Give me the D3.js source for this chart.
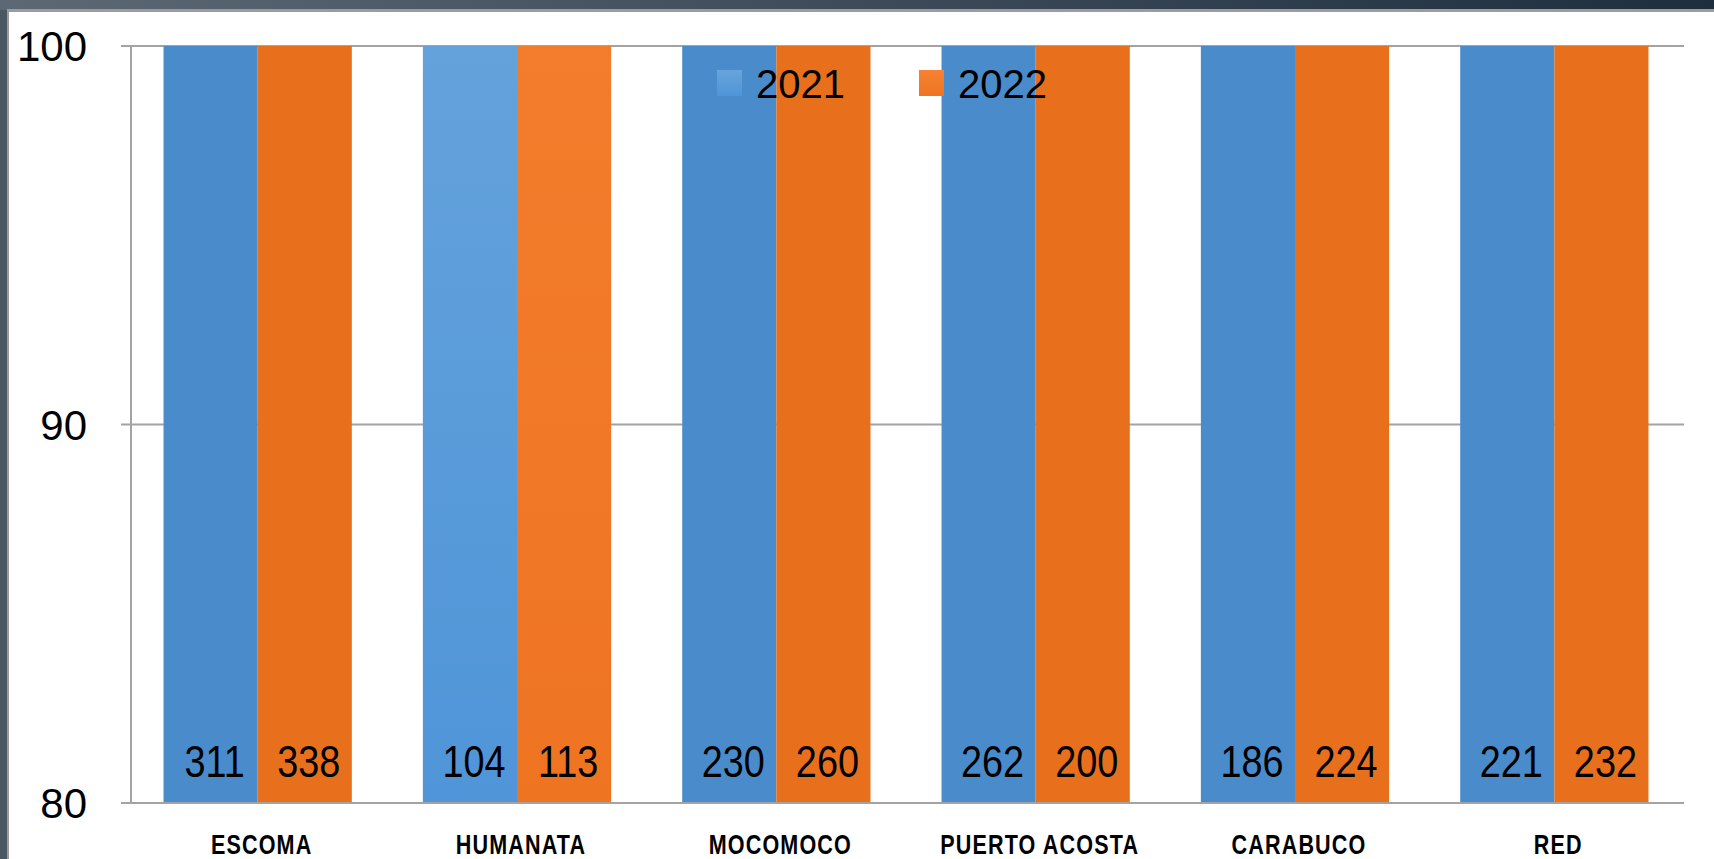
<!DOCTYPE html>
<html lang="es">
<head>
    <meta charset="UTF-8">
    <title>2021 vs 2022</title>
    <script src="https://d3js.org/d3.v7.min.js"></script>
    <style type="text/css">
        body { margin: 0; background: #4a5763; overflow: hidden; }
        .grid line { stroke: #a3a3a3; stroke-width: 2px; }
        .tick-label { font-family: "Liberation Sans", Arial, sans-serif; font-size: 42px; fill: #000; }
        .value-label { font-family: "Liberation Sans", Arial, sans-serif; font-size: 44px; fill: #000; }
        .cat-label { font-family: "Liberation Sans", Arial, sans-serif; font-size: 28px; font-weight: bold; letter-spacing: 1.5px; fill: #000; }
        .legend text { font-family: "Liberation Sans", Arial, sans-serif; font-size: 40px; fill: #000; }
    </style>
</head>
<body>
    <script type="text/javascript">
        const categories = ["ESCOMA", "HUMANATA", "MOCOMOCO", "PUERTO ACOSTA", "CARABUCO", "RED"];
        const series = ["2021", "2022"];
        const values2021 = [311, 104, 230, 262, 186, 221];
        const values2022 = [338, 113, 260, 200, 224, 232];
        const yTicks = [80, 90, 100];
        const highlighted = "HUMANATA";

        const width = 1714;
        const height = 859;
        const plot = { left: 131, right: 1684, top: 46, bottom: 803 };
        // the original font is a condensed one
        const squeezeValue = 0.86;
        const squeezeCat = 0.77;

        const svg = d3.select("body")
            .append("svg")
            .attr("width", width)
            .attr("height", height);

        const defs = svg.append("defs");
        const topBand = defs.append("linearGradient").attr("id", "top-band");
        topBand.append("stop").attr("offset", "0%").attr("stop-color", "#5c6975");
        topBand.append("stop").attr("offset", "100%").attr("stop-color", "#1f2e3e");

        const gradBlue = defs.append("linearGradient").attr("id", "grad-blue")
            .attr("x1", 0).attr("y1", 0).attr("x2", 0).attr("y2", 1);
        gradBlue.append("stop").attr("offset", "0%").attr("stop-color", "#68a4dc");
        gradBlue.append("stop").attr("offset", "100%").attr("stop-color", "#4f95d8");
        const gradOrange = defs.append("linearGradient").attr("id", "grad-orange")
            .attr("x1", 0).attr("y1", 0).attr("x2", 0).attr("y2", 1);
        gradOrange.append("stop").attr("offset", "0%").attr("stop-color", "#f68233");
        gradOrange.append("stop").attr("offset", "100%").attr("stop-color", "#ee7422");

        // slide frame
        svg.append("rect").attr("width", width).attr("height", height).attr("fill", "#4a5864");
        svg.append("rect").attr("width", width).attr("height", 10).attr("fill", "url(#top-band)");
        svg.append("rect").attr("x", 7).attr("y", 9).attr("width", width).attr("height", height)
            .attr("fill", "#9c9c9c");
        svg.append("rect").attr("x", 9).attr("y", 12).attr("width", width).attr("height", height)
            .attr("fill", "#ffffff");

        const color = d3.scaleOrdinal().domain(series).range(["#4a8ccb", "#e8701c"]);
        const gradFor = { "2021": "url(#grad-blue)", "2022": "url(#grad-orange)" };

        const x0 = d3.scaleBand()
            .domain(categories)
            .range([plot.left - 3, plot.right])
            .paddingInner(0.274)
            .paddingOuter(0.137);

        const x1 = d3.scaleBand()
            .domain(series)
            .range([0, x0.bandwidth()]);

        const y = d3.scaleLinear()
            .domain([80, 100])
            .range([plot.bottom, plot.top]);

        // gridlines
        svg.append("g")
            .attr("class", "grid")
            .selectAll("line")
            .data(yTicks.slice(1))
            .join("line")
            .attr("x1", plot.left - 10)
            .attr("x2", plot.right)
            .attr("y1", d => y(d))
            .attr("y2", d => y(d));

        const rows = categories.map((c, i) => ({ cat: c, vals: [values2021[i], values2022[i]] }));

        svg.append("clipPath").attr("id", "plot-clip")
            .append("rect")
            .attr("x", plot.left).attr("y", plot.top)
            .attr("width", plot.right - plot.left).attr("height", plot.bottom - plot.top);

        const groups = svg.append("g")
            .attr("clip-path", "url(#plot-clip)")
            .selectAll("g")
            .data(rows)
            .join("g")
            .attr("transform", d => `translate(${x0(d.cat)},0)`);

        groups.selectAll("rect")
            .data(d => series.map((s, j) => ({ cat: d.cat, key: s, value: d.vals[j] })))
            .join("rect")
            .attr("x", d => x1(d.key))
            .attr("width", x1.bandwidth())
            .attr("y", d => y(d.value))
            .attr("height", d => y(80) - y(d.value))
            .attr("fill", d => d.cat === highlighted ? gradFor[d.key] : color(d.key));

        // data labels at the base of each bar
        groups.selectAll("text")
            .data(d => series.map((s, j) => ({ key: s, value: d.vals[j] })))
            .join("text")
            .attr("class", "value-label")
            .attr("transform", d => `translate(${x1(d.key) + x1.bandwidth() / 2 + 4},${y(80) - 26}) scale(${squeezeValue},1)`)
            .attr("text-anchor", "middle")
            .text(d => d.value);

        // axes
        svg.append("line")
            .attr("x1", plot.left).attr("x2", plot.left)
            .attr("y1", plot.top - 1).attr("y2", plot.bottom + 1)
            .attr("stroke", "#a3a3a3").attr("stroke-width", 2);
        svg.append("line")
            .attr("x1", plot.left - 10).attr("x2", plot.right)
            .attr("y1", plot.bottom).attr("y2", plot.bottom)
            .attr("stroke", "#a3a3a3").attr("stroke-width", 2);

        svg.append("g")
            .selectAll("text")
            .data(yTicks)
            .join("text")
            .attr("class", "tick-label")
            .attr("x", 87)
            .attr("y", d => y(d) + 15)
            .attr("text-anchor", "end")
            .text(d => d);

        svg.append("g")
            .selectAll("text")
            .data(categories)
            .join("text")
            .attr("class", "cat-label")
            .attr("transform", d => `translate(${x0(d) + x0.bandwidth() / 2 + 4},854) scale(${squeezeCat},1)`)
            .attr("text-anchor", "middle")
            .text(d => d);

        // legend
        const legendX = d3.scaleOrdinal().domain(series).range([717, 919]);
        const legend = svg.append("g").attr("class", "legend")
            .selectAll("g")
            .data(series)
            .join("g")
            .attr("transform", d => `translate(${legendX(d)},70)`);
        legend.append("rect")
            .attr("width", 25)
            .attr("height", 26)
            .attr("fill", d => gradFor[d]);
        legend.append("text")
            .attr("x", 39)
            .attr("y", 28)
            .text(d => d);
    </script>
</body>
</html>
